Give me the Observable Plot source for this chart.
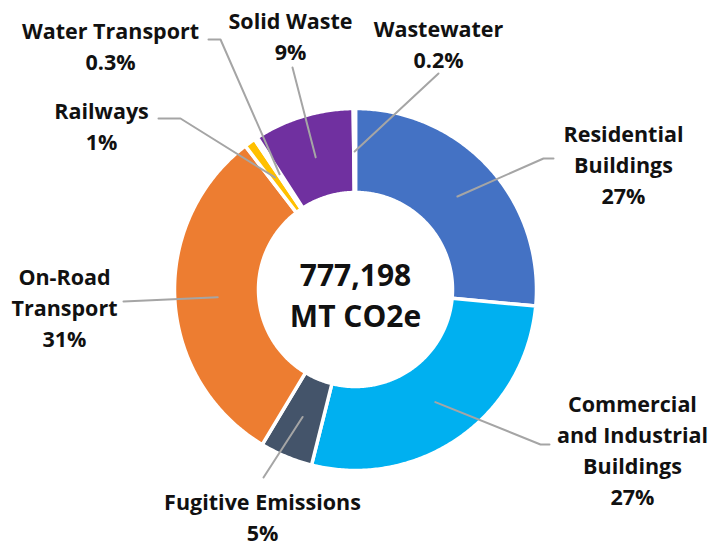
<!DOCTYPE html>
<html><head><meta charset="utf-8">
<script src="https://cdn.jsdelivr.net/npm/d3@7"></script>
<script src="https://cdn.jsdelivr.net/npm/@observablehq/plot@0.6"></script>
<style>
body{margin:0;background:#fff;}
#chart svg{font-family:"Open Sans",sans-serif;}
</style>
</head><body><div id="chart"></div>
<script>
// ---- data ----
const categories = ["Residential Buildings","Commercial and Industrial Buildings","Fugitive Emissions","On-Road Transport","Railways","Water Transport","Solid Waste","Wastewater"];
const shares = [26.4, 27.4, 4.7, 30.9, 1.0, 0.3, 8.9, 0.2];
const shareLabels = ["27%","27%","5%","31%","1%","0.3%","9%","0.2%"];
const labelNames = ["Residential\nBuildings","Commercial\nand Industrial\nBuildings","Fugitive Emissions","On-Road\nTransport","Railways","Water Transport","Solid Waste","Wastewater"];
const colors = ["#4472C4","#00B0F0","#44546A","#ED7D31","#FFC000","#A5A5A5","#7030A0","#8E6AA8"];
const totalValue = "777,198";
const totalUnit = "MT CO2e";

// ---- layout ----
const W = 710, H = 547, cx = 355, cy = 289, R = 181, r0 = 97, rLead = 138;
// label anchor (centre x, first baseline) and leader-line outer points
const labelLayout = [
  {x: 623, b: 135, path: [[543,158],[553,158]]},
  {x: 632, b: 405, path: [[540,444],[549,444]]},
  {x: 262, b: 503, path: [[263,477]]},
  {x: 64,  b: 278, path: [[123,301]]},
  {x: 101, b: 112, path: [[180,118],[158,118]]},
  {x: 110, b: 32,  path: [[220,39],[208,39]]},
  {x: 290, b: 22,  path: [[292,67]]},
  {x: 438, b: 30,  path: [[438,73]]}
];

const total = d3.sum(shares);
let acc = 0;
const slices = categories.map((c, i) => {
  const a0 = acc / total * 2 * Math.PI; acc += shares[i];
  const a1 = acc / total * 2 * Math.PI;
  return {c, i, a0, a1, mid: (a0 + a1) / 2};
});
const polar = (a, rad) => [cx + rad * Math.sin(a), cy - rad * Math.cos(a)];
const ring = [];
for (const s of slices) {
  const n = Math.max(2, Math.ceil((s.a1 - s.a0) / 0.01));
  for (let k = 0; k <= n; k++) { const [x, y] = polar(s.a0 + (s.a1 - s.a0) * k / n, R); ring.push({c: s.c, x, y}); }
  for (let k = n; k >= 0; k--) { const [x, y] = polar(s.a0 + (s.a1 - s.a0) * k / n, r0); ring.push({c: s.c, x, y}); }
}
const leaders = [];
slices.forEach((s, i) => {
  const [x, y] = polar(s.mid, rLead);
  leaders.push({c: s.c, x, y});
  for (const [px, py] of labelLayout[i].path) leaders.push({c: s.c, x: px, y: py});
});
const fs = 21.5, lh = 31 / 21.5;
const labels = slices.map((s, i) => ({
  x: labelLayout[i].x, y: labelLayout[i].b - 0.71 * fs,
  t: labelNames[i] + "\n" + shareLabels[i]
}));

const chart = Plot.plot({
  width: W, height: H, margin: 0,
  x: {domain: [0, W], range: [0, W], axis: null},
  y: {domain: [0, H], range: [0, H], axis: null},
  color: {domain: categories, range: colors},
  marks: [
    Plot.line(ring, {x: "x", y: "y", z: "c", fill: "c", stroke: "white", strokeWidth: 3.5, curve: "linear-closed"}),
    Plot.line(leaders, {x: "x", y: "y", z: "c", stroke: "#A5A5A5", strokeWidth: 2}),
    Plot.text(labels, {x: "x", y: "y", text: "t", fontSize: fs, fontWeight: 700, lineAnchor: "top", lineHeight: lh, textAnchor: "middle", fill: "#111"}),
    Plot.text([{x: cx, y: cy + 4, t: totalValue + "\n" + totalUnit}], {x: "x", y: "y", text: "t", fontSize: 30, fontWeight: 700, lineAnchor: "middle", lineHeight: 1.37, textAnchor: "middle", fill: "#111"})
  ]
});
document.getElementById("chart").appendChild(chart);
</script>
</body></html>
